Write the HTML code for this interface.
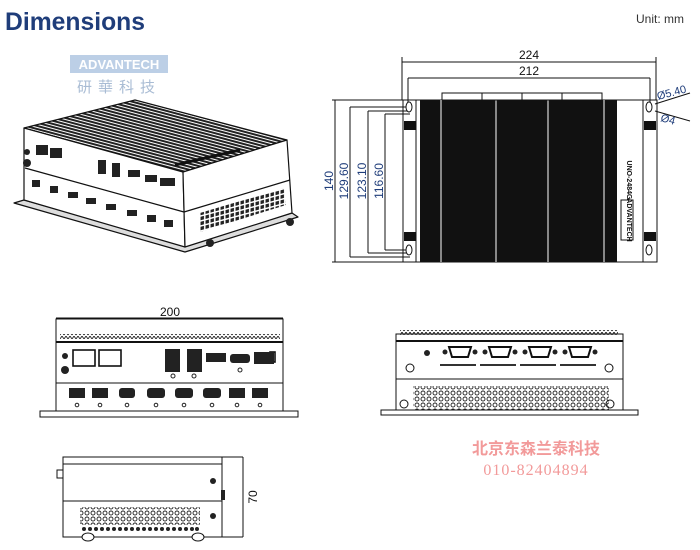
<!DOCTYPE html>
<html><head><meta charset="utf-8"><style>
html,body{margin:0;padding:0;background:#fff;}
svg{display:block;}
.s{font-family:"Liberation Sans","Noto Sans CJK SC",sans-serif;}
.cn{font-family:"Noto Sans CJK SC",sans-serif;}
.tc{font-family:"Liberation Sans","Noto Sans CJK TC",sans-serif;}
.sf{font-family:"Liberation Serif",serif;}
</style></head><body>
<svg width="700" height="550" viewBox="0 0 700 550" xmlns="http://www.w3.org/2000/svg">
<defs>
<pattern id="fin" width="3" height="3" patternUnits="userSpaceOnUse" patternTransform="rotate(15)">
<rect width="3" height="3" fill="#fff"/><rect width="3" height="2" fill="#222"/></pattern>
<pattern id="holes" width="6" height="6" patternUnits="userSpaceOnUse">
<circle cx="3" cy="3" r="2" fill="none" stroke="#222" stroke-width="0.9"/></pattern>
<pattern id="grid" width="5" height="5" patternUnits="userSpaceOnUse" patternTransform="skewY(-15)">
<rect width="5" height="5" fill="#fff"/><rect x="0.5" y="0.5" width="3.5" height="3.5" fill="#222"/></pattern>
<pattern id="zig" width="4" height="4" patternUnits="userSpaceOnUse">
<path d="M0 3 L2 0 L4 3" fill="none" stroke="#222" stroke-width="0.9"/></pattern>
</defs>

<text class="s" x="5" y="30" font-size="25" font-weight="bold" fill="#1f3d7a" textLength="140" lengthAdjust="spacingAndGlyphs">Dimensions</text>
<text class="s" x="636" y="23" font-size="12" fill="#333">Unit: mm</text>

<rect x="70" y="55" width="98" height="18" fill="#bccfe6"/>
<text class="s" x="119" y="69" font-size="13" font-weight="bold" fill="#fff" text-anchor="middle">ADVANTECH</text>
<text class="tc" x="119" y="92" font-size="15" fill="#a9bcd4" text-anchor="middle" letter-spacing="6">研華科技</text>

<!-- isometric -->
<g stroke="#111" stroke-width="1.2" stroke-linejoin="round">
<polygon points="14,203 185,252 298,217 292,213 185,245 24,200" fill="#ddd"/>
<polygon points="24,128 135,100 287,140 183,172" fill="url(#fin)"/>
<polygon points="24,128 183,172 185,247 24,200" fill="#fff"/>
<polygon points="183,172 287,140 292,213 185,247" fill="#fff"/>
<line x1="25" y1="168" x2="184" y2="212"/>
<line x1="184" y1="212" x2="290" y2="180"/>
<polygon points="200,213 284,188 286,205 200,232" fill="url(#grid)" stroke="none"/>
<line x1="175" y1="165" x2="240" y2="150" stroke-width="3"/>
</g>
<g fill="#222">
<rect x="36" y="145" width="12" height="10"/><rect x="50" y="148" width="12" height="10"/>
<rect x="98" y="160" width="8" height="14"/><rect x="112" y="163" width="8" height="14"/>
<rect x="128" y="170" width="12" height="7"/><rect x="145" y="175" width="12" height="7"/>
<rect x="160" y="178" width="15" height="8"/>
<rect x="32" y="180" width="8" height="7"/><rect x="50" y="186" width="8" height="7"/><rect x="68" y="192" width="10" height="6"/>
<rect x="86" y="198" width="10" height="6"/><rect x="106" y="204" width="10" height="6"/><rect x="127" y="210" width="10" height="6"/>
<rect x="147" y="215" width="9" height="7"/><rect x="164" y="220" width="9" height="7"/>
<circle cx="27" cy="152" r="3"/><circle cx="27" cy="163" r="4"/>
<circle cx="210" cy="243" r="4"/><circle cx="290" cy="222" r="4"/>
</g>

<!-- top view -->
<g stroke="#111" stroke-width="1" fill="none">
<line x1="402" y1="57" x2="402" y2="100"/><line x1="656" y1="57" x2="656" y2="100"/>
<line x1="402" y1="62" x2="656" y2="62"/>
<line x1="408" y1="78" x2="408" y2="104"/><line x1="650" y1="78" x2="650" y2="104"/>
<line x1="408" y1="78" x2="650" y2="78"/>
<line x1="332" y1="100" x2="403" y2="100"/><line x1="332" y1="262" x2="403" y2="262"/>
<line x1="335" y1="100" x2="335" y2="262"/>
<line x1="350" y1="107" x2="350" y2="257"/><line x1="350" y1="107" x2="410" y2="107"/><line x1="350" y1="257" x2="410" y2="257"/>
<line x1="368" y1="111" x2="368" y2="253"/><line x1="368" y1="111" x2="410" y2="111"/><line x1="368" y1="253" x2="410" y2="253"/>
<line x1="385" y1="114" x2="385" y2="250"/><line x1="385" y1="114" x2="410" y2="114"/><line x1="385" y1="250" x2="410" y2="250"/>
<rect x="403" y="100" width="254" height="162"/>
<line x1="416" y1="100" x2="416" y2="262"/><line x1="643" y1="100" x2="643" y2="262"/>
<line x1="655" y1="104" x2="690" y2="93"/><line x1="655" y1="111" x2="690" y2="121"/>
</g>
<rect x="420" y="100" width="197" height="162" fill="#111"/>
<g stroke="#fff" stroke-width="1"><line x1="441" y1="100" x2="441" y2="262"/><line x1="496" y1="100" x2="496" y2="262"/><line x1="548" y1="100" x2="548" y2="262"/><line x1="604" y1="100" x2="604" y2="262"/></g>
<g fill="#fff" stroke="#111" stroke-width="1">
<rect x="442" y="93" width="40" height="7"/><rect x="482" y="93" width="40" height="7"/><rect x="522" y="93" width="40" height="7"/><rect x="562" y="93" width="40" height="7"/>
<ellipse cx="409" cy="107" rx="3" ry="5"/><ellipse cx="409" cy="250" rx="3" ry="5"/>
<ellipse cx="649" cy="107" rx="3" ry="5"/><ellipse cx="649" cy="250" rx="3" ry="5"/>
<rect x="621" y="200" width="12" height="40"/>
</g>
<g fill="#111"><rect x="404" y="121" width="12" height="9"/><rect x="404" y="232" width="12" height="9"/><rect x="644" y="121" width="12" height="9"/><rect x="644" y="232" width="12" height="9"/></g>
<text class="s" transform="translate(627,220) rotate(90)" font-size="7" font-weight="bold" text-anchor="middle" fill="#111">ADVANTECH</text>
<text class="s" transform="translate(627,180) rotate(90)" font-size="7" font-weight="bold" text-anchor="middle" fill="#111">UNO-2484G</text>
<text class="s" x="529" y="59" font-size="12" fill="#111" text-anchor="middle">224</text>
<text class="s" x="529" y="75" font-size="12" fill="#111" text-anchor="middle">212</text>
<text class="s" transform="translate(333,181) rotate(-90)" font-size="12" fill="#1f3d7a" text-anchor="middle">140</text>
<text class="s" transform="translate(348,181) rotate(-90)" font-size="12" fill="#1f3d7a" text-anchor="middle">129.60</text>
<text class="s" transform="translate(366,181) rotate(-90)" font-size="12" fill="#1f3d7a" text-anchor="middle">123.10</text>
<text class="s" transform="translate(383,181) rotate(-90)" font-size="12" fill="#1f3d7a" text-anchor="middle">116.60</text>
<text class="s" transform="translate(658,100) rotate(-15)" font-size="11" fill="#1f3d7a">Ø5.40</text>
<text class="s" transform="translate(660,121) rotate(15)" font-size="11" fill="#1f3d7a">Ø4</text>

<!-- front view -->
<g stroke="#111" fill="none" stroke-width="1">
<line x1="56" y1="318" x2="283" y2="318"/>
<rect x="56" y="319" width="227" height="94"/>
<line x1="56" y1="342" x2="283" y2="342" stroke-width="2"/>
<line x1="56" y1="383" x2="283" y2="383"/>
<line x1="56" y1="413" x2="283" y2="413" stroke-width="2"/>
<rect x="40" y="411" width="258" height="6" fill="#fff"/>
</g>
<rect x="60" y="334" width="220" height="5" fill="url(#zig)"/>
<text class="s" x="170" y="316" font-size="12" fill="#111" text-anchor="middle">200</text>
<g fill="#fff" stroke="#111" stroke-width="1.6">
<rect x="73" y="350" width="22" height="16"/><rect x="99" y="350" width="22" height="16"/>
<rect x="270" y="352" width="5" height="10"/>
</g>
<g fill="#222">
<rect x="165" y="349" width="15" height="23"/><rect x="187" y="349" width="15" height="23"/>
<rect x="206" y="353" width="20" height="9"/><rect x="230" y="354" width="20" height="9" rx="3"/><rect x="254" y="352" width="20" height="12"/>
<circle cx="65" cy="356" r="3"/><circle cx="65" cy="370" r="4"/>
<rect x="69" y="388" width="16" height="10"/><rect x="92" y="388" width="16" height="10"/><rect x="119" y="388" width="16" height="10" rx="3"/><rect x="147" y="388" width="18" height="10" rx="3"/>
<rect x="175" y="388" width="18" height="10" rx="3"/><rect x="203" y="388" width="18" height="10" rx="3"/><rect x="229" y="388" width="16" height="10"/><rect x="252" y="388" width="16" height="10"/>
</g>
<g fill="none" stroke="#222" stroke-width="1"><circle cx="77" cy="405" r="1.8"/><circle cx="100" cy="405" r="1.8"/><circle cx="127" cy="405" r="1.8"/><circle cx="156" cy="405" r="1.8"/><circle cx="184" cy="405" r="1.8"/><circle cx="212" cy="405" r="1.8"/><circle cx="237" cy="405" r="1.8"/><circle cx="260" cy="405" r="1.8"/><circle cx="173" cy="376" r="2"/><circle cx="194" cy="376" r="2"/><circle cx="240" cy="370" r="2"/></g>

<!-- rear view -->
<g stroke="#111" fill="none" stroke-width="1">
<rect x="396" y="334" width="227" height="80"/>
<line x1="396" y1="341" x2="623" y2="341" stroke-width="2"/>
<line x1="396" y1="379" x2="623" y2="379"/>
<line x1="396" y1="413" x2="623" y2="413" stroke-width="2"/>
<rect x="381" y="410" width="257" height="5" fill="#fff"/>
<circle cx="410" cy="368" r="4"/><circle cx="609" cy="368" r="4"/>
<circle cx="404" cy="404" r="4"/><circle cx="610" cy="404" r="4"/>
</g>
<rect x="400" y="330" width="218" height="5" fill="url(#zig)"/>
<rect x="413" y="386" width="196" height="24" fill="url(#holes)"/>
<g fill="#fff" stroke="#111" stroke-width="2">
<path d="M449 347 h22 l-3 10 h-16 z"/><path d="M489 347 h22 l-3 10 h-16 z"/><path d="M529 347 h22 l-3 10 h-16 z"/><path d="M569 347 h22 l-3 10 h-16 z"/>
</g>
<g fill="#222"><circle cx="445" cy="352" r="2.5"/><circle cx="475" cy="352" r="2.5"/><circle cx="485" cy="352" r="2.5"/><circle cx="515" cy="352" r="2.5"/><circle cx="525" cy="352" r="2.5"/><circle cx="555" cy="352" r="2.5"/><circle cx="565" cy="352" r="2.5"/><circle cx="595" cy="352" r="2.5"/></g>
<circle cx="427" cy="353" r="3" fill="#222"/>
<g fill="#333"><rect x="440" y="364" width="36" height="2"/><rect x="480" y="364" width="36" height="2"/><rect x="520" y="364" width="36" height="2"/><rect x="560" y="364" width="36" height="2"/></g>

<!-- side view -->
<g stroke="#111" fill="none" stroke-width="1">
<rect x="63" y="457" width="159" height="80"/>
<line x1="63" y1="464" x2="222" y2="464"/>
<line x1="63" y1="501" x2="222" y2="501"/>
<line x1="222" y1="457" x2="243" y2="457"/><line x1="222" y1="537" x2="243" y2="537"/>
<line x1="243" y1="457" x2="243" y2="537"/>
<rect x="57" y="470" width="6" height="8"/>
<ellipse cx="88" cy="537" rx="6" ry="4" fill="#fff"/><ellipse cx="198" cy="537" rx="6" ry="4" fill="#fff"/>
</g>
<rect x="80" y="507" width="120" height="18" fill="url(#holes)"/>
<g fill="#222"><circle cx="84" cy="529" r="2"/><circle cx="90" cy="529" r="2"/><circle cx="96" cy="529" r="2"/><circle cx="102" cy="529" r="2"/><circle cx="108" cy="529" r="2"/><circle cx="114" cy="529" r="2"/><circle cx="120" cy="529" r="2"/><circle cx="126" cy="529" r="2"/><circle cx="132" cy="529" r="2"/><circle cx="138" cy="529" r="2"/><circle cx="144" cy="529" r="2"/><circle cx="150" cy="529" r="2"/><circle cx="156" cy="529" r="2"/><circle cx="162" cy="529" r="2"/><circle cx="168" cy="529" r="2"/><circle cx="174" cy="529" r="2"/><circle cx="180" cy="529" r="2"/><circle cx="186" cy="529" r="2"/><circle cx="192" cy="529" r="2"/><circle cx="197" cy="529" r="2"/>
<circle cx="213" cy="481" r="3"/><circle cx="213" cy="516" r="3"/><rect x="221" y="490" width="4" height="10"/></g>
<text class="s" transform="translate(257,497) rotate(-90)" font-size="12" fill="#111" text-anchor="middle">70</text>

<text class="cn" x="536" y="454" font-size="16" font-weight="bold" fill="#f29a9a" text-anchor="middle">北京东森兰泰科技</text>
<text class="sf" x="536" y="475" font-size="16" fill="#f29a9a" text-anchor="middle" letter-spacing="1">010-82404894</text>
</svg>
</body></html>
